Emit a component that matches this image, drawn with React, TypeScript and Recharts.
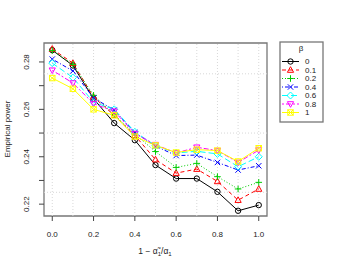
import React from "react"
import { LineChart, Line, XAxis, YAxis, ReferenceLine, ReferenceArea } from "recharts"

const xValues = [0, 0.1, 0.2, 0.3, 0.4, 0.5, 0.6, 0.7, 0.8, 0.9, 1.0]
const beta0 = [0.285, 0.2785, 0.2645, 0.2542, 0.247, 0.2365, 0.2308, 0.2308, 0.2252, 0.2172, 0.2196]
const beta01 = [0.2855, 0.2795, 0.2652, 0.2575, 0.249, 0.2388, 0.2331, 0.2348, 0.2296, 0.2217, 0.2264]
const beta02 = [0.2848, 0.279, 0.2659, 0.2578, 0.2495, 0.2422, 0.2355, 0.2372, 0.2316, 0.2264, 0.2292]
const beta04 = [0.2812, 0.2762, 0.2648, 0.2597, 0.2502, 0.2445, 0.2405, 0.2407, 0.2376, 0.2344, 0.2362]
const beta06 = [0.2795, 0.2734, 0.263, 0.26, 0.2505, 0.2447, 0.2416, 0.2423, 0.2412, 0.2358, 0.24]
const beta08 = [0.2765, 0.2711, 0.2624, 0.2592, 0.2498, 0.2451, 0.2416, 0.244, 0.2426, 0.2376, 0.2428]
const beta1 = [0.2732, 0.2687, 0.26, 0.2575, 0.2485, 0.2448, 0.2418, 0.243, 0.2426, 0.238, 0.2436]

const betaLabels = ["0", "0.1", "0.2", "0.4", "0.6", "0.8", "1"]
const xTicks = [0, 0.2, 0.4, 0.6, 0.8, 1.0]
const yTicks = [0.22, 0.23, 0.24, 0.25, 0.26, 0.27, 0.28]
const yLabelTicks = [0.22, 0.24, 0.26, 0.28]
const xGrid = [0, 0.1, 0.2, 0.3, 0.4, 0.5, 0.6, 0.7, 0.8, 0.9, 1.0]
const yGrid = [0.225, 0.25, 0.275]

const seriesValues = [beta0, beta01, beta02, beta04, beta06, beta08, beta1]
const series = [
    { key: "b0", color: "#000000", dash: undefined, shape: "circle" },
    { key: "b01", color: "#FF0000", dash: "4 3", shape: "triangle" },
    { key: "b02", color: "#00CD00", dash: "1 2", shape: "plus" },
    { key: "b04", color: "#0000FF", dash: "1 2 4 2", shape: "cross" },
    { key: "b06", color: "#00FFFF", dash: "6 3", shape: "diamond" },
    { key: "b08", color: "#FF00FF", dash: "2 2 5 2", shape: "down" },
    { key: "b1", color: "#FFFF00", dash: undefined, shape: "boxcross" },
]

const data = xValues.map((x, i) => {
    const row: Record<string, number> = { x }
    series.forEach((s, j) => { row[s.key] = seriesValues[j][i] })
    return row
})

const FONT = "'Liberation Sans', Arial, sans-serif"
const FS = 8

const Marker = ({ cx, cy, shape, color }: { cx: number; cy: number; shape: string; color: string }) => {
    const r = 2.7
    const p = { fill: "none", stroke: color, strokeWidth: 1 }
    if (shape === "circle") return <circle cx={cx} cy={cy} r={r} {...p} />
    if (shape === "triangle") return <polygon points={`${cx},${cy - r - 0.6} ${cx - r - 0.4},${cy + r - 0.4} ${cx + r + 0.4},${cy + r - 0.4}`} {...p} />
    if (shape === "down") return <polygon points={`${cx},${cy + r + 0.6} ${cx - r - 0.4},${cy - r + 0.4} ${cx + r + 0.4},${cy - r + 0.4}`} {...p} />
    if (shape === "plus") return <path d={`M${cx - r - 0.6},${cy}H${cx + r + 0.6}M${cx},${cy - r - 0.6}V${cy + r + 0.6}`} {...p} />
    if (shape === "cross") return <path d={`M${cx - r},${cy - r}L${cx + r},${cy + r}M${cx - r},${cy + r}L${cx + r},${cy - r}`} {...p} />
    if (shape === "diamond") return <polygon points={`${cx},${cy - r - 0.8} ${cx + r + 0.8},${cy} ${cx},${cy + r + 0.8} ${cx - r - 0.8},${cy}`} {...p} />
    return (
        <g>
            <rect x={cx - r} y={cy - r} width={2 * r} height={2 * r} {...p} />
            <path d={`M${cx - r},${cy - r}L${cx + r},${cy + r}M${cx - r},${cy + r}L${cx + r},${cy - r}`} {...p} />
        </g>
    )
}

const XTick = ({ x, y, payload }: any) => (
    <text x={x} y={y + 14} textAnchor="middle" fontSize={FS} fontFamily={FONT} fill="#222">
        {payload.value.toFixed(1)}
    </text>
)

const YTick = ({ x, y, payload }: any) => {
    const show = yLabelTicks.some(v => Math.abs(v - payload.value) < 1e-9)
    if (!show) return <g />
    return (
        <text x={x - 8} y={y} textAnchor="middle" fontSize={FS} fontFamily={FONT} fill="#222"
            transform={`rotate(-90 ${x - 8} ${y})`}>
            {payload.value.toFixed(2)}
        </text>
    )
}

const App = () => {
    return (
        <div style={{ position: "absolute", left: 0, top: 0, width: 355, height: 272, background: "#fff" }}>
            <LineChart width={355} height={272} data={data} margin={{ top: 43, right: 88, bottom: 0, left: 0 }}>
                <XAxis dataKey="x" type="number" domain={[-0.04, 1.04]} ticks={xTicks} tick={<XTick />}
                    tickSize={5} axisLine={false} tickLine={{ stroke: "#444" }} height={56} />
                <YAxis type="number" domain={[0.215, 0.288]} ticks={yTicks} tick={<YTick />}
                    tickSize={5} axisLine={false} tickLine={{ stroke: "#444" }} width={44} />
                {xGrid.map(v => (
                    <ReferenceLine key={"gx" + v} x={v} stroke="#d8d8d8" strokeDasharray="1 2" />
                ))}
                {yGrid.map(v => (
                    <ReferenceLine key={"gy" + v} y={v} stroke="#d8d8d8" strokeDasharray="1 2" />
                ))}
                <ReferenceArea x1={-0.04} x2={1.04} y1={0.215} y2={0.288} fill="none" stroke="#777" strokeWidth={1.3} />
                {series.map(s => (
                    <Line key={s.key} dataKey={s.key} type="linear" stroke={s.color} strokeWidth={1}
                        strokeDasharray={s.dash} isAnimationActive={false}
                        dot={(props: any) => <Marker key={s.key + props.index} cx={props.cx} cy={props.cy} shape={s.shape} color={s.color} />} />
                ))}
            </LineChart>
            <svg width={355} height={272} style={{ position: "absolute", left: 0, top: 0, pointerEvents: "none" }}>
                <text x={8} y={129} textAnchor="middle" dominantBaseline="middle" fontSize={FS} fontFamily={FONT} fill="#222"
                    transform="rotate(-90 8 129)">Empirical power</text>
                <text x={155} y={254} textAnchor="middle" fontSize={8.5} fontFamily={FONT} fill="#222">
                    1 − α̃<tspan fontSize={6} dy={1.5}>1</tspan><tspan dy={-1.5}>/α</tspan><tspan fontSize={6} dy={1.5}>1</tspan>
                </text>
                <rect x={280} y={42} width={43} height={80} fill="#fff" stroke="#777" strokeWidth={1.3} />
                <text x={301} y={51} textAnchor="middle" fontSize={FS} fontFamily={FONT} fill="#222">β</text>
                {series.map((s, i) => {
                    const y = 61.5 + i * 8.5
                    return (
                        <g key={"lg" + s.key}>
                            <line x1={282} x2={299} y1={y} y2={y} stroke={s.color} strokeDasharray={s.dash} />
                            <Marker cx={290.5} cy={y} shape={s.shape} color={s.color} />
                            <text x={305} y={y + 2.9} fontSize={FS} fontFamily={FONT} fill="#222">{betaLabels[i]}</text>
                        </g>
                    )
                })}
            </svg>
        </div>
    )
}

export default App
